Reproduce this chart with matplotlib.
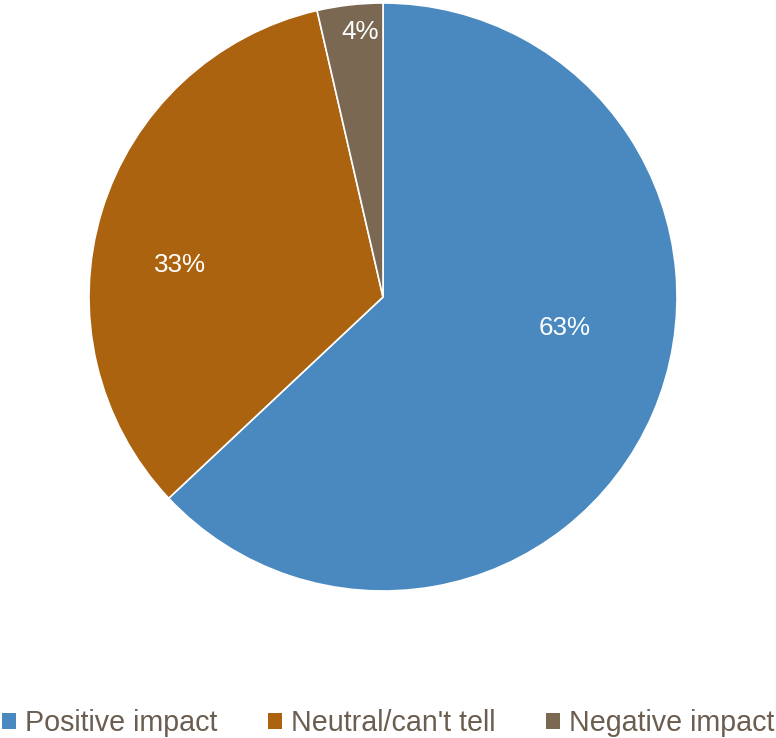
import matplotlib.pyplot as plt
from matplotlib.patches import Patch

categories = ['Positive impact', "Neutral/can't tell", 'Negative impact']
shares = [63.0, 33.4, 3.6]
colors = ['#4A89BF', '#AB6310', '#7A6852']

# label spots inside the pie (Excel best-fit placement), in radius units
label_xy = [(0.619, -0.105), (-0.690, 0.109), (-0.078, 0.901)]

fig = plt.figure(figsize=(7.76, 7.38), dpi=100)
ax = fig.add_axes([89 / 776, 147 / 738, 588 / 776, 588 / 738])

wedges, texts, autotexts = ax.pie(
    shares, colors=colors, startangle=90, counterclock=False,
    autopct='%.0f%%', radius=1.0,
    wedgeprops=dict(edgecolor='white', linewidth=1.2),
    textprops=dict(color='white', fontsize=18.7, family='Liberation Sans'))
for t, (x, y) in zip(autotexts, label_xy):
    t.set_position((x, y))
    t.set_ha('center')
    t.set_va('center')

ax.set_xlim(-1, 1)
ax.set_ylim(-1, 1)
ax.set_aspect('equal')
ax.axis('off')

handles = [Patch(facecolor=c, edgecolor='none') for c in colors]
leg = fig.legend(handles, categories, loc='center', bbox_to_anchor=(0.5, 15 / 738),
                 ncol=3, frameon=False, handlelength=0.52, handleheight=0.52,
                 handletextpad=0.3, columnspacing=1.75, borderaxespad=0,
                 prop=dict(family='Liberation Sans', size=20.6))
for t in leg.get_texts():
    t.set_color('#6B5E50')

fig.savefig('out.png', dpi=100)
